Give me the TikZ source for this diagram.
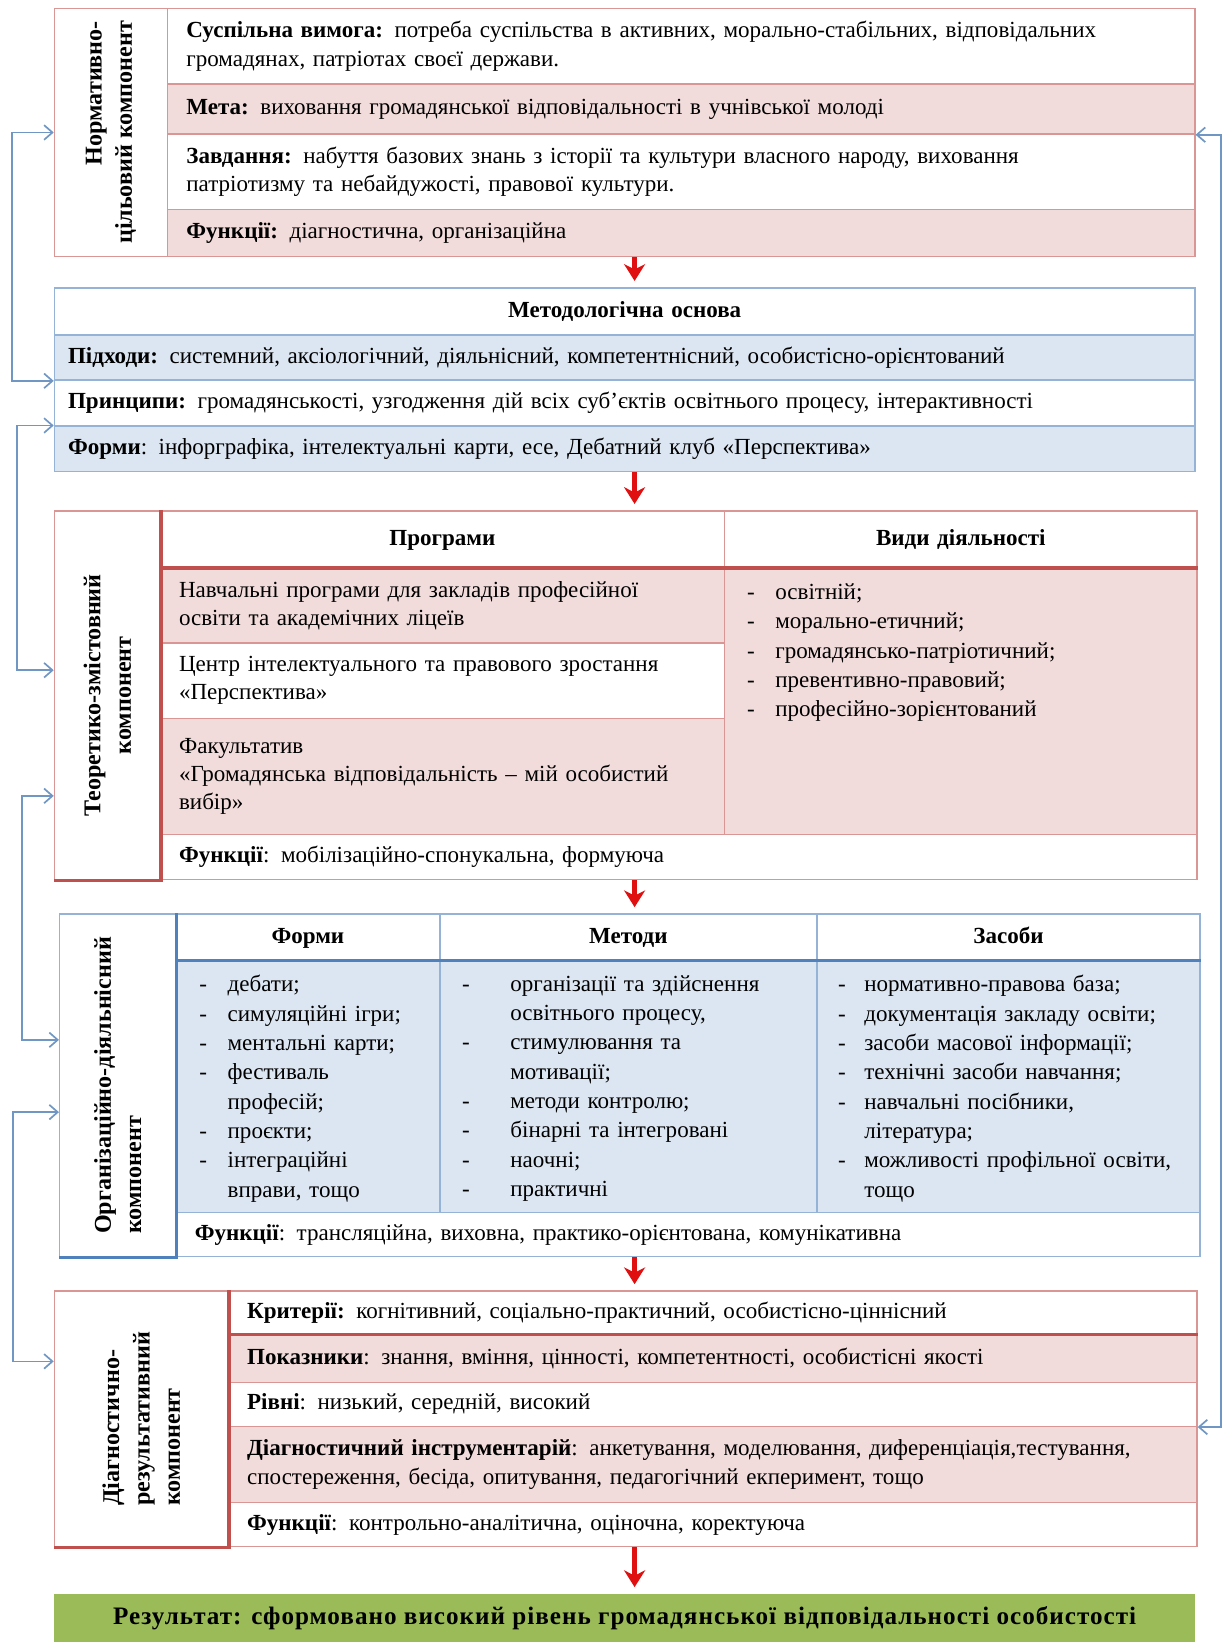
\documentclass[tikz,border=0pt]{standalone}
\usepackage{fontspec}
\setmainfont{Liberation Serif}
\usetikzlibrary{arrows.meta,calc}
\definecolor{pinkB}{HTML}{D99694}
\definecolor{pinkF}{HTML}{F2DCDB}
\definecolor{redL}{HTML}{C0504D}
\definecolor{blueB}{HTML}{95B3D7}
\definecolor{blueF}{HTML}{DCE6F2}
\definecolor{blueL}{HTML}{4F81BD}
\definecolor{connC}{HTML}{7096C4}
\definecolor{greenF}{HTML}{9BBB59}
\definecolor{arrR}{HTML}{E01010}
\newcommand\bodyfont{\fontsize{11}{13.5}\selectfont}
\newcommand\listfont{\fontsize{11}{14}\selectfont}
\newcommand\labfont{\fontsize{11.5}{14.5}\selectfont\bfseries}
% \cell[pad]{name}{x1}{y1}{x2}{y2}{style}{content}
\newcommand\cell[8][9]{%
  \pgfmathsetmacro\cw{(#5-#3)/2}%
  \pgfmathsetmacro\ch{(#6-#4)/2}%
  \pgfmathsetmacro\tw{\cw-2*#1}%
  \node[cellbase, inner xsep=#1pt, text width=\tw pt, minimum width=\cw pt, minimum height=\ch pt, #7] (#2) at ({(#3+#5)/2},{(#4+#6)/2}) {#8};}
\newcommand\dl[2]{\makebox[#1][l]{-}#2}
\begin{document}
\begin{tikzpicture}[x=0.5pt,y=-0.5pt,
  cellbase/.style={anchor=center, inner ysep=0pt, align=left, font=\bodyfont, line width=0.7pt},
  pk/.style={draw=pinkB, fill=pinkF},
  pw/.style={draw=pinkB, fill=white},
  bk/.style={draw=blueB, fill=blueF},
  bw/.style={draw=blueB, fill=white},
  hd/.style={align=center, font=\bodyfont\bfseries, text height=8pt, text depth=2.5pt},
  lab/.style={rotate=90, font=\labfont, inner sep=0pt},
  lst/.style={anchor=north west, inner sep=0pt, align=left, text width=200pt, font=\listfont},
  conn/.style={draw=connC, line width=0.8pt, {Straight Barb[length=4pt,width=7pt]}-{Straight Barb[length=4pt,width=7pt]}},
  redarr/.style={draw=arrR, line width=2.4pt, -{Stealth[length=8pt,width=10pt,inset=2.5pt]}, shorten <=0pt, shorten >=3pt},
  thickR/.style={draw=redL, line width=1.6pt},
  thickB/.style={draw=blueL, line width=1.6pt}]
\useasboundingbox (0,0) rectangle (1169,1568);
\fill[white] (0,0) rectangle (1169,1568);
\coordinate (xa) at (606,0);

% ---------------- Section 1
\cell{s1lab}{52}{8}{160}{245}{pw}{}
\cell{s1r1}{160}{8}{1141}{80}{pw}{\textbf{Суспільна вимога:} потреба суспільства в активних, морально-стабільних, відповідальних\\громадянах, патріотах своєї держави.}
\cell{s1r2}{160}{80}{1141}{128}{pk}{\textbf{Мета:} виховання громадянської відповідальності в учнівської молоді}
\cell{s1r3}{160}{128}{1141}{200}{pw}{\textbf{Завдання:} набуття базових знань з історії та культури власного народу, виховання\\патріотизму та небайдужості, правової культури.}
\cell{s1r4}{160}{200}{1141}{245}{pk}{\textbf{Функції:} діагностична, організаційна}
\node[lab, align=right] (t1) at (s1lab.center) {Нормативно-\\цільовий компонент};

% ---------------- Section 2
\cell[6.5]{s2r0}{52}{275}{1141}{320}{bw,hd}{Методологічна основа}
\cell[6.5]{s2r1}{52}{320}{1141}{363}{bk}{\textbf{Підходи:} системний, аксіологічний, діяльнісний, компетентнісний, особистісно-орієнтований}
\cell[6.5]{s2r2}{52}{363}{1141}{407}{bw}{\textbf{Принципи:} громадянськості, узгодження дій всіх суб’єктів освітнього процесу, інтерактивності}
\cell[6.5]{s2r3}{52}{407}{1141}{450}{bk}{\textbf{Форми}: інфорграфіка, інтелектуальні карти, есе, Дебатний клуб «Перспектива»}

% ---------------- Section 3
\cell{s3lab}{52}{488}{153}{840}{pw}{}
\cell{s3h1}{153}{488}{692}{543}{pw,hd}{Програми}
\cell{s3h2}{692}{488}{1143}{543}{pw,hd}{Види діяльності}
\cell{s3a}{153}{543}{692}{614}{pk}{Навчальні програми для закладів професійної\\освіти та академічних ліцеїв}
\cell{s3b}{153}{614}{692}{686}{pw}{Центр інтелектуального та правового зростання\\«Перспектива»}
\cell{s3c}{153}{686}{692}{797}{pk}{Факультатив\\«Громадянська відповідальність – мій особистий\\вибір»}
\cell{s3d}{692}{543}{1143}{797}{pk}{}
\cell{s3f}{153}{797}{1143}{840}{pw}{\textbf{Функції}: мобілізаційно-спонукальна, формуюча}
\draw[thickR] (s3a.north west) -- (s3d.north east);
\draw[thickR] (s3lab.north east) -- (s3lab.south east) -- (s3lab.south west);
\node[lab, align=center] (t3) at (s3lab.center) {Теоретико-змістовний\\компонент};
\node[lst] (l3) at (713,557) {\dl{13.5pt}{освітній;}\\\dl{13.5pt}{морально-етичний;}\\\dl{13.5pt}{громадянсько-патріотичний;}\\\dl{13.5pt}{превентивно-правовий;}\\\dl{13.5pt}{професійно-зорієнтований}};

% ---------------- Section 4
\cell{s4lab}{57}{873}{168}{1200}{bw}{}
\cell{s4h1}{168}{873}{420}{918}{bw,hd}{Форми}
\cell{s4h2}{420}{873}{780}{918}{bw,hd}{Методи}
\cell{s4h3}{780}{873}{1146}{918}{bw,hd}{Засоби}
\cell{s4b1}{168}{918}{420}{1158}{bk}{}
\cell{s4b2}{420}{918}{780}{1158}{bk}{}
\cell{s4b3}{780}{918}{1146}{1158}{bk}{}
\cell{s4f}{168}{1158}{1146}{1200}{bw}{\textbf{Функції}: трансляційна, виховна, практико-орієнтована, комунікативна}
\draw[thickB] (s4b1.north west) -- (s4b3.north east);
\draw[thickB] (s4lab.north east) -- (s4lab.south east) -- (s4lab.south west);
\node[lab, align=left] (t4) at (s4lab.center) {Організаційно-діяльнісний\\компонент};
\node[lst] (l4a) at (190,931) {\dl{13.5pt}{дебати;}\\\dl{13.5pt}{симуляційні ігри;}\\\dl{13.5pt}{ментальні карти;}\\\dl{13.5pt}{фестиваль}\\\hspace*{13.5pt}професій;\\\dl{13.5pt}{проєкти;}\\\dl{13.5pt}{інтеграційні}\\\hspace*{13.5pt}вправи, тощо};
\node[lst] (l4b) at (441,931) {\dl{23pt}{організації та здійснення}\\\hspace*{23pt}освітнього процесу,\\\dl{23pt}{стимулювання та}\\\hspace*{23pt}мотивації;\\\dl{23pt}{методи контролю;}\\\dl{23pt}{бінарні та інтегровані}\\\dl{23pt}{наочні;}\\\dl{23pt}{практичні}};
\node[lst] (l4c) at (800,931) {\dl{12.5pt}{нормативно-правова база;}\\\dl{12.5pt}{документація закладу освіти;}\\\dl{12.5pt}{засоби масової інформації;}\\\dl{12.5pt}{технічні засоби навчання;}\\\dl{12.5pt}{навчальні посібники,}\\\hspace*{12.5pt}література;\\\dl{12.5pt}{можливості профільної освіти,}\\\hspace*{12.5pt}тощо};

% ---------------- Section 5
\cell{s5lab}{52}{1233}{218}{1477}{pw}{}
\cell{s5r1}{218}{1233}{1143}{1275}{pw}{\textbf{Критерії:} когнітивний, соціально-практичний, особистісно-ціннісний}
\cell{s5r2}{218}{1275}{1143}{1320}{pk}{\textbf{Показники}: знання, вміння, цінності, компетентності, особистісні якості}
\cell{s5r3}{218}{1320}{1143}{1362}{pw}{\textbf{Рівні}: низький, середній, високий}
\cell{s5r4}{218}{1362}{1143}{1435}{pk}{\textbf{Діагностичний інструментарій}: анкетування, моделювання, диференціація,тестування,\\спостереження, бесіда, опитування, педагогічний екперимент, тощо}
\cell{s5r5}{218}{1435}{1143}{1477}{pw}{\textbf{Функції}: контрольно-аналітична, оціночна, коректуюча}
\draw[thickR] (s5r2.north west) -- (s5r2.north east);
\draw[thickR] (s5lab.north east) -- (s5lab.south east) -- (s5lab.south west);
\node[lab, align=left] (t5) at (s5lab.center) {Діагностично-\\результативний\\компонент};

% ---------------- Result
\node[fill=greenF, minimum width=544.5pt, minimum height=23pt, inner sep=0pt, font=\fontsize{12}{14}\selectfont\bfseries\addfontfeatures{LetterSpace=4}] (res) at (596.5,1545) {Результат: сформовано високий рівень громадянської відповідальності особистості};

% ---------------- Red arrows
\draw[redarr] (s1r4.south -| xa) -- (s2r0.north -| xa);
\draw[redarr] (s2r3.south -| xa) -- (s3h1.north -| xa);
\draw[redarr] (s3f.south -| xa) -- (s4h2.north -| xa);
\draw[redarr] (s4f.south -| xa) -- (s5r1.north -| xa);
\draw[redarr] (s5r5.south -| xa) -- (res.north -| xa);

% ---------------- Feedback connectors
\draw[conn] (s2r1.south west) -- ++(-40,0) |- (s1lab.west);
\draw[conn] (s2r3.north west) -- ++(-35,0) |- ([yshift=12pt]s3lab.west);
\draw[conn] ([yshift=-48pt]s3lab.west) -- ++(-30,0) |- ([yshift=21.75pt]s4lab.west);
\draw[conn] ([yshift=-12.75pt]s4lab.west) -- ++(-44,0) |- ([yshift=27.5pt]s5lab.west);
\draw[conn] (s1r2.south east) -- ++(24,0) |- (s5r3.south east);
\end{tikzpicture}
\end{document}
